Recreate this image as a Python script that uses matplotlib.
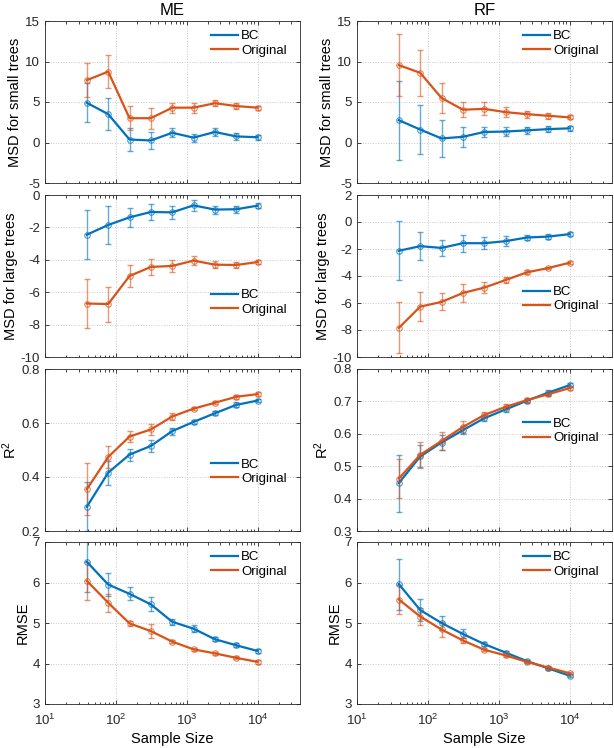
import matplotlib
matplotlib.use("Agg")
import matplotlib.pyplot as plt
from matplotlib.lines import Line2D
from matplotlib.ticker import LogLocator, FixedLocator, FixedFormatter
import numpy as np

plt.rcParams['font.family'] = ['Liberation Sans', 'DejaVu Sans']
plt.rcParams['axes.unicode_minus'] = False
plt.rcParams['mathtext.default'] = 'regular'

sample_size = [39, 78, 156, 312, 625, 1250, 2500, 5000, 10000]

# ME
me_small_bc = [4.9, 3.5, 0.37, 0.25, 1.2, 0.6, 1.3, 0.75, 0.65]
me_small_bc_err = [2.4, 2.0, 1.45, 1.0, 0.55, 0.5, 0.45, 0.4, 0.3]
me_small_or = [7.7, 8.75, 3.0, 3.0, 4.3, 4.3, 4.85, 4.5, 4.3]
me_small_or_err = [2.1, 2.05, 1.5, 1.3, 0.6, 0.6, 0.4, 0.35, 0.25]

me_large_bc = [-2.45, -1.85, -1.38, -1.05, -1.07, -0.64, -0.9, -0.88, -0.66]
me_large_bc_err = [1.5, 1.2, 0.6, 0.47, 0.4, 0.35, 0.25, 0.22, 0.15]
me_large_or = [-6.7, -6.73, -5.0, -4.44, -4.38, -4.05, -4.3, -4.32, -4.14]
me_large_or_err = [1.5, 1.08, 0.7, 0.47, 0.35, 0.3, 0.2, 0.2, 0.12]

me_r2_bc = [0.29, 0.416, 0.483, 0.515, 0.57, 0.604, 0.636, 0.667, 0.683]
me_r2_bc_err = [0.09, 0.045, 0.022, 0.023, 0.013, 0.007, 0.007, 0.009, 0.007]
me_r2_or = [0.355, 0.474, 0.55, 0.576, 0.624, 0.653, 0.675, 0.697, 0.707]
me_r2_or_err = [0.097, 0.042, 0.019, 0.022, 0.012, 0.006, 0.005, 0.008, 0.007]

me_rmse_bc = [6.51, 5.95, 5.72, 5.46, 5.03, 4.86, 4.6, 4.45, 4.31]
me_rmse_bc_err = [0.75, 0.28, 0.16, 0.17, 0.08, 0.08, 0.05, 0.05, 0.05]
me_rmse_or = [6.04, 5.5, 4.99, 4.8, 4.54, 4.35, 4.25, 4.14, 4.04]
me_rmse_or_err = [0.47, 0.22, 0.07, 0.17, 0.04, 0.04, 0.03, 0.04, 0.04]

# RF
rf_small_bc = [2.75, 1.6, 0.5, 0.7, 1.3, 1.35, 1.5, 1.65, 1.75]
rf_small_bc_err = [4.9, 3.05, 2.3, 1.2, 0.65, 0.6, 0.45, 0.35, 0.3]
rf_small_or = [9.55, 8.6, 5.5, 4.05, 4.15, 3.75, 3.5, 3.3, 3.1]
rf_small_or_err = [3.8, 2.85, 1.85, 0.9, 0.8, 0.65, 0.45, 0.4, 0.25]

rf_large_bc = [-2.13, -1.79, -1.92, -1.57, -1.57, -1.42, -1.15, -1.08, -0.9]
rf_large_bc_err = [2.2, 1.03, 0.57, 0.62, 0.45, 0.35, 0.2, 0.17, 0.15]
rf_large_or = [-7.84, -6.27, -5.92, -5.26, -4.86, -4.3, -3.73, -3.41, -3.02]
rf_large_or_err = [1.88, 1.1, 0.63, 0.7, 0.43, 0.25, 0.15, 0.1, 0.1]

rf_r2_bc = [0.448, 0.53, 0.573, 0.611, 0.648, 0.675, 0.702, 0.727, 0.75]
rf_r2_bc_err = [0.088, 0.034, 0.023, 0.012, 0.01, 0.008, 0.006, 0.007, 0.007]
rf_r2_or = [0.462, 0.535, 0.578, 0.621, 0.658, 0.683, 0.704, 0.722, 0.741]
rf_r2_or_err = [0.06, 0.04, 0.029, 0.02, 0.01, 0.008, 0.005, 0.006, 0.007]

rf_rmse_bc = [5.96, 5.32, 5.0, 4.73, 4.48, 4.27, 4.06, 3.88, 3.7]
rf_rmse_bc_err = [0.63, 0.27, 0.18, 0.11, 0.06, 0.05, 0.03, 0.03, 0.03]
rf_rmse_or = [5.58, 5.16, 4.84, 4.57, 4.34, 4.2, 4.04, 3.9, 3.76]
rf_rmse_or_err = [0.37, 0.2, 0.18, 0.07, 0.04, 0.04, 0.03, 0.03, 0.03]

col_titles = ['ME', 'RF']
row_labels = ['MSD for small trees', 'MSD for large trees', 'R$^2$', 'RMSE']
ylims = {
    ('ME', 0): (-5, 15), ('ME', 1): (-10, 0), ('ME', 2): (0.2, 0.8), ('ME', 3): (3, 7),
    ('RF', 0): (-5, 15), ('RF', 1): (-10, 2), ('RF', 2): (0.3, 0.8), ('RF', 3): (3, 7),
}
yticks = {
    ('ME', 0): [-5, 0, 5, 10, 15], ('ME', 1): [-10, -8, -6, -4, -2, 0],
    ('ME', 2): [0.2, 0.4, 0.6, 0.8], ('ME', 3): [3, 4, 5, 6, 7],
    ('RF', 0): [-5, 0, 5, 10, 15], ('RF', 1): [-10, -8, -6, -4, -2, 0, 2],
    ('RF', 2): [0.3, 0.4, 0.5, 0.6, 0.7, 0.8], ('RF', 3): [3, 4, 5, 6, 7],
}
ytick_labels = {
    ('ME', 0): ['-5', '0', '5', '10', '15'], ('ME', 1): ['-10', '-8', '-6', '-4', '-2', '0'],
    ('ME', 2): ['0.2', '0.4', '0.6', '0.8'], ('ME', 3): ['3', '4', '5', '6', '7'],
    ('RF', 0): ['-5', '0', '5', '10', '15'], ('RF', 1): ['-10', '-8', '-6', '-4', '-2', '0', '2'],
    ('RF', 2): ['0.3', '0.4', '0.5', '0.6', '0.7', '0.8'], ('RF', 3): ['3', '4', '5', '6', '7'],
}
data = {
    'ME': [(me_small_bc, me_small_bc_err, me_small_or, me_small_or_err),
           (me_large_bc, me_large_bc_err, me_large_or, me_large_or_err),
           (me_r2_bc, me_r2_bc_err, me_r2_or, me_r2_or_err),
           (me_rmse_bc, me_rmse_bc_err, me_rmse_or, me_rmse_or_err)],
    'RF': [(rf_small_bc, rf_small_bc_err, rf_small_or, rf_small_or_err),
           (rf_large_bc, rf_large_bc_err, rf_large_or, rf_large_or_err),
           (rf_r2_bc, rf_r2_bc_err, rf_r2_or, rf_r2_or_err),
           (rf_rmse_bc, rf_rmse_bc_err, rf_rmse_or, rf_rmse_or_err)],
}
# legend anchor (x, y) in axes fraction, upper right corner
legend_pos = {
    ('ME', 0): (1.0, 1.025), ('ME', 1): (1.0, 0.50), ('ME', 2): (1.0, 0.53), ('ME', 3): (1.0, 1.025),
    ('RF', 0): (1.0, 1.025), ('RF', 1): (1.0, 0.52), ('RF', 2): (1.0, 0.78), ('RF', 3): (1.0, 1.025),
}

BLUE = '#0072BD'
ORANGE = '#D95319'
W, H = 614, 748
fig = plt.figure(figsize=(W / 100, H / 100), dpi=100)

col_left = [45, 357]
ax_w = 255
row_top = [21, 195, 369, 542]
ax_h = 162

for c, name in enumerate(col_titles):
    for r in range(4):
        ax = fig.add_axes([col_left[c] / W, 1 - (row_top[r] + ax_h) / H, ax_w / W, ax_h / H])
        bc, bce, orv, ore = data[name][r]
        for vals, errs, col in ((bc, bce, BLUE), (orv, ore, ORANGE)):
            ax.errorbar(sample_size, vals, yerr=errs, fmt='none', ecolor=col, alpha=0.6,
                        elinewidth=1.0, capsize=2.5, capthick=1.0, zorder=2)
            ax.plot(sample_size, vals, '-', color=col, lw=1.6, zorder=3)
            ax.plot(sample_size, vals, 'o', mfc='none', mec=col, ms=4, mew=0.8, alpha=0.7, zorder=3)
        ax.set_xscale('log')
        ax.set_xlim(10, 10 ** 4.6)
        ax.set_ylim(*ylims[(name, r)])
        ax.yaxis.set_major_locator(FixedLocator(yticks[(name, r)]))
        ax.yaxis.set_major_formatter(FixedFormatter(ytick_labels[(name, r)]))
        ax.xaxis.set_major_locator(LogLocator(base=10, numticks=10))
        ax.xaxis.set_minor_locator(LogLocator(base=10, subs=np.arange(2, 10), numticks=10))
        ax.grid(True, which='major', linestyle=':', color='#c8c8c8', lw=0.7)
        ax.tick_params(which='both', direction='in', top=True, right=True, colors='#262626',
                       labelsize=9.5, length=3, width=0.6)
        ax.tick_params(which='minor', length=1.8)
        ax.tick_params(axis='x', which='major', pad=6)
        for sp in ax.spines.values():
            sp.set_color('#262626')
            sp.set_linewidth(0.6)
        if r < 3:
            ax.tick_params(which='both', labelbottom=False)
        else:
            ax.set_xlabel('Sample Size', fontsize=10.5, labelpad=3)
        ax.set_ylabel(row_labels[r], fontsize=10.5, labelpad=2)
        if r == 0:
            ax.set_title(name, fontsize=12, pad=4)
        handles = [Line2D([], [], color=BLUE, lw=1.6), Line2D([], [], color=ORANGE, lw=1.6)]
        ax.legend(handles, ['BC', 'Original'], loc='upper right',
                  bbox_to_anchor=legend_pos[(name, r)], frameon=False, fontsize=9.5,
                  handlelength=2.0, handletextpad=0.25, labelspacing=0.15, borderaxespad=0.6)

fig.savefig('out.png', dpi=100)
